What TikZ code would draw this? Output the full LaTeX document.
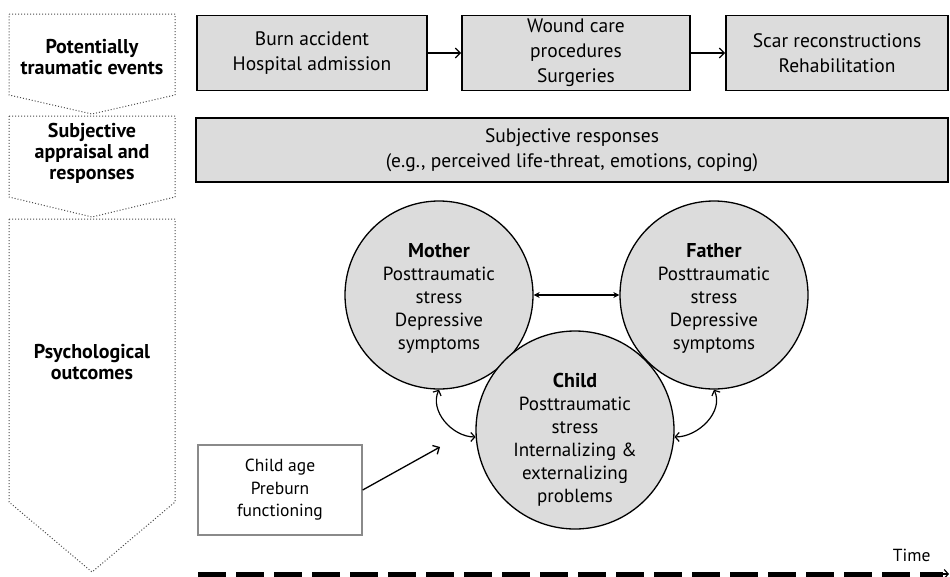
\documentclass[tikz,border=0pt]{standalone}
\usepackage{fontspec}
\setmainfont{PT Sans}
\usetikzlibrary{arrows.meta}
\definecolor{boxgray}{HTML}{DCDCDC}
\definecolor{framegray}{HTML}{8A8A8A}
\definecolor{dotgray}{HTML}{4A4A4A}
\tikzset{
  x=1pt, y=-1pt,
  stagebox/.style={draw=black, line width=1.6pt, fill=boxgray, align=center,
    font=\fontsize{19.5}{25}\selectfont, inner sep=0pt},
  person/.style={circle, draw=black, line width=1.3pt, fill=boxgray, inner sep=0pt},
  persontext/.style={align=center, font=\fontsize{19}{23}\selectfont, inner sep=0pt},
  phase/.style={draw=dotgray, line width=1pt, dotted, line join=miter},
  phaselabel/.style={align=center, font=\bfseries\fontsize{20}{21}\selectfont},
  link/.style={line width=1.3pt, -{Straight Barb[length=5pt,width=10pt]}},
  twoway/.style={line width=1.2pt, {Stealth[length=6pt,width=6pt]}-{Stealth[length=6pt,width=6pt]}},
  barbtwoway/.style={line width=1.2pt, {Straight Barb[length=4pt,width=9pt]}-{Straight Barb[length=4pt,width=9pt]}},
}
\newcommand{\who}[1]{{\bfseries\fontsize{20}{23}\selectfont #1}}
\begin{document}
\begin{tikzpicture}
\useasboundingbox (0,0) rectangle (950,576);

% phases on the left
\draw[phase] (9,14) -- (175,14) -- (175,95) -- (92,114) -- (9,95) -- cycle;
\draw[phase] (9,116) -- (175,116) -- (175,197) -- (92,217) -- (9,197) -- cycle;
\draw[phase] (9,219) -- (175,219) -- (175,502) -- (92,572) -- (9,502) -- cycle;
\node[phaselabel] (ph1) at (92,57) {Potentially\\traumatic events};
\node[phaselabel] (ph2) at (92,153) {Subjective\\appraisal and\\responses};
\node[phaselabel] (ph3) at (92,362) {Psychological\\outcomes};

% events
\node[stagebox, minimum width=230, minimum height=75] (ev1) at (312,53)
  {Burn accident\\Hospital admission};
\node[stagebox, minimum width=228, minimum height=75] (ev2) at (576,53)
  {Wound care\\procedures\\Surgeries};
\node[stagebox, minimum width=222, minimum height=75] (ev3) at (837,53)
  {Scar reconstructions\\Rehabilitation};
\draw[link] (ev1) -- (ev2);
\draw[link] (ev2) -- (ev3);

% responses
\node[stagebox, minimum width=752, minimum height=64] (resp) at (572,150)
  {Subjective responses\\(e.g., perceived life-threat, emotions, coping)};

% family members
\node[person, minimum size=188] (mother) at (439,295) {};
\node[person, minimum size=188] (father) at (714,295) {};
\node[person, minimum size=198] (child) at (575,430) {};
\node[persontext] (mothertext) at (439,298)
  {\who{Mother}\\Posttraumatic\\stress\\Depressive\\symptoms};
\node[persontext] (fathertext) at (714,298)
  {\who{Father}\\Posttraumatic\\stress\\Depressive\\symptoms};
\node[persontext] (childtext) at (575,440)
  {\who{Child}\\Posttraumatic\\stress\\Internalizing \&\\externalizing\\problems};

\draw[twoway] (mother.east) -- (father.west);
\draw[barbtwoway] (mother.-90) to[out=-115, in=180] (child.184);
\draw[barbtwoway] (father.-90) to[out=-65, in=0] (child.-4);

% predictors
\node[draw=framegray, line width=1.3pt, fill=white, align=center,
  minimum width=164, minimum height=90, inner sep=0pt,
  font=\fontsize{17.5}{22.5}\selectfont] (pred) at (280,490)
  {Child age\\Preburn\\functioning};
\coordinate (predtip) at (440,447);
\draw[link] (pred.east) -- (predtip);

% time axis
\coordinate (t0) at (198,574);
\coordinate (t1) at (949,574);
\draw[line width=5pt, dash pattern=on 28pt off 10pt] (t0) -- ([xshift=-6pt]t1);
\draw[line width=1.2pt, -{Straight Barb[length=4pt,width=9pt]}] ([xshift=-8pt]t1) -- (t1);
\node[font=\fontsize{17.5}{20}\selectfont, anchor=base east] (time) at (934,561) {Time};
\end{tikzpicture}
\end{document}
